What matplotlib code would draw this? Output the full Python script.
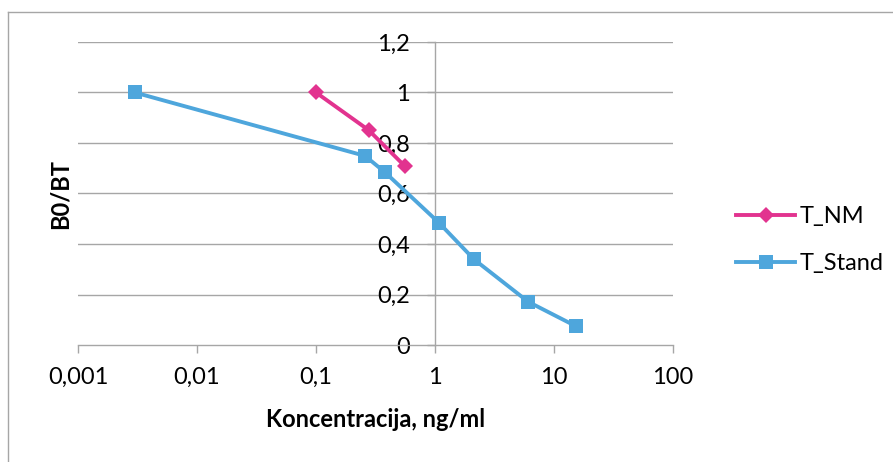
import matplotlib
matplotlib.use("Agg")
import matplotlib.pyplot as plt
from matplotlib.ticker import FixedLocator
from matplotlib.lines import Line2D

plt.rcParams['font.family'] = ['Lato', 'DejaVu Sans']

# Data
nm_x = [0.1, 0.277, 0.556]
nm_y = [1.0, 0.851, 0.709]
stand_x = [0.003, 0.258, 0.38, 1.08, 2.13, 6.08, 15.2]
stand_y = [1.0, 0.749, 0.684, 0.484, 0.339, 0.171, 0.075]
series_names = ["T_NM", "T_Stand"]
x_ticks = [0.001, 0.01, 0.1, 1, 10, 100]
x_labels = ["0,001", "0,01", "0,1", "1", "10", "100"]
y_ticks = [0, 0.2, 0.4, 0.6, 0.8, 1.0, 1.2]
y_labels = ["0", "0,2", "0,4", "0,6", "0,8", "1", "1,2"]

PINK = "#E2338F"
BLUE = "#4EA6DC"
GRID = "#A6A6A6"

W, H = 893, 462
fig = plt.figure(figsize=(W / 100, H / 100), dpi=100)
ax = fig.add_axes([78 / W, 1 - 345 / H, (673 - 78) / W, (345 - 42) / H])

ax.set_xscale('log')
ax.set_xlim(0.001, 100)
ax.set_ylim(0, 1.2)

ax.plot(nm_x, nm_y, color=PINK, lw=2.8, marker='D', markersize=8.5,
        markeredgewidth=0, label=series_names[0], zorder=3)
ax.plot(stand_x, stand_y, color=BLUE, lw=2.8, marker='s', markersize=10,
        markeredgewidth=0, label=series_names[1], zorder=3)

# grid
for yv in y_ticks[1:]:
    ax.axhline(yv, color=GRID, lw=1, zorder=1)

for s in ['top', 'right']:
    ax.spines[s].set_visible(False)
ax.spines['left'].set_position(('data', 1))
ax.spines['left'].set_color(GRID)
ax.spines['bottom'].set_color(GRID)
ax.spines['left'].set_linewidth(1)
ax.spines['bottom'].set_linewidth(1)

ax.xaxis.set_major_locator(FixedLocator(x_ticks))
ax.xaxis.set_minor_locator(FixedLocator([]))
ax.set_xticklabels(x_labels)
ax.yaxis.set_major_locator(FixedLocator(y_ticks))
ax.set_yticklabels(y_labels)

ax.tick_params(axis='x', length=6, width=1, color=GRID, pad=10,
               labelsize=17, labelcolor='black', direction='out')
ax.tick_params(axis='y', length=6, width=1, color=GRID, pad=12,
               labelsize=17, labelcolor='black', direction='out')

ax.set_xlabel("Koncentracija, ng/ml", fontsize=17, fontweight='bold', labelpad=14)
fig.text(60 / W, 1 - 194 / H, "B0/BT", rotation=90, fontsize=17,
         fontweight='bold', ha='center', va='center')

leg = ax.legend(loc='center left', bbox_to_anchor=(715 / W, 1 - 240 / H),
                bbox_transform=fig.transFigure, frameon=False, fontsize=17,
                handlelength=2.5, handletextpad=0.2, labelspacing=1.1)

# outer border (left and top visible)
fig.add_artist(Line2D([8 / W, 8 / W], [0, 1 - 12 / H], transform=fig.transFigure,
                      color='#A6A6A6', lw=1))
fig.add_artist(Line2D([8 / W, 1], [1 - 12 / H, 1 - 12 / H], transform=fig.transFigure,
                      color='#A6A6A6', lw=1))

fig.savefig("out.png", dpi=100)
